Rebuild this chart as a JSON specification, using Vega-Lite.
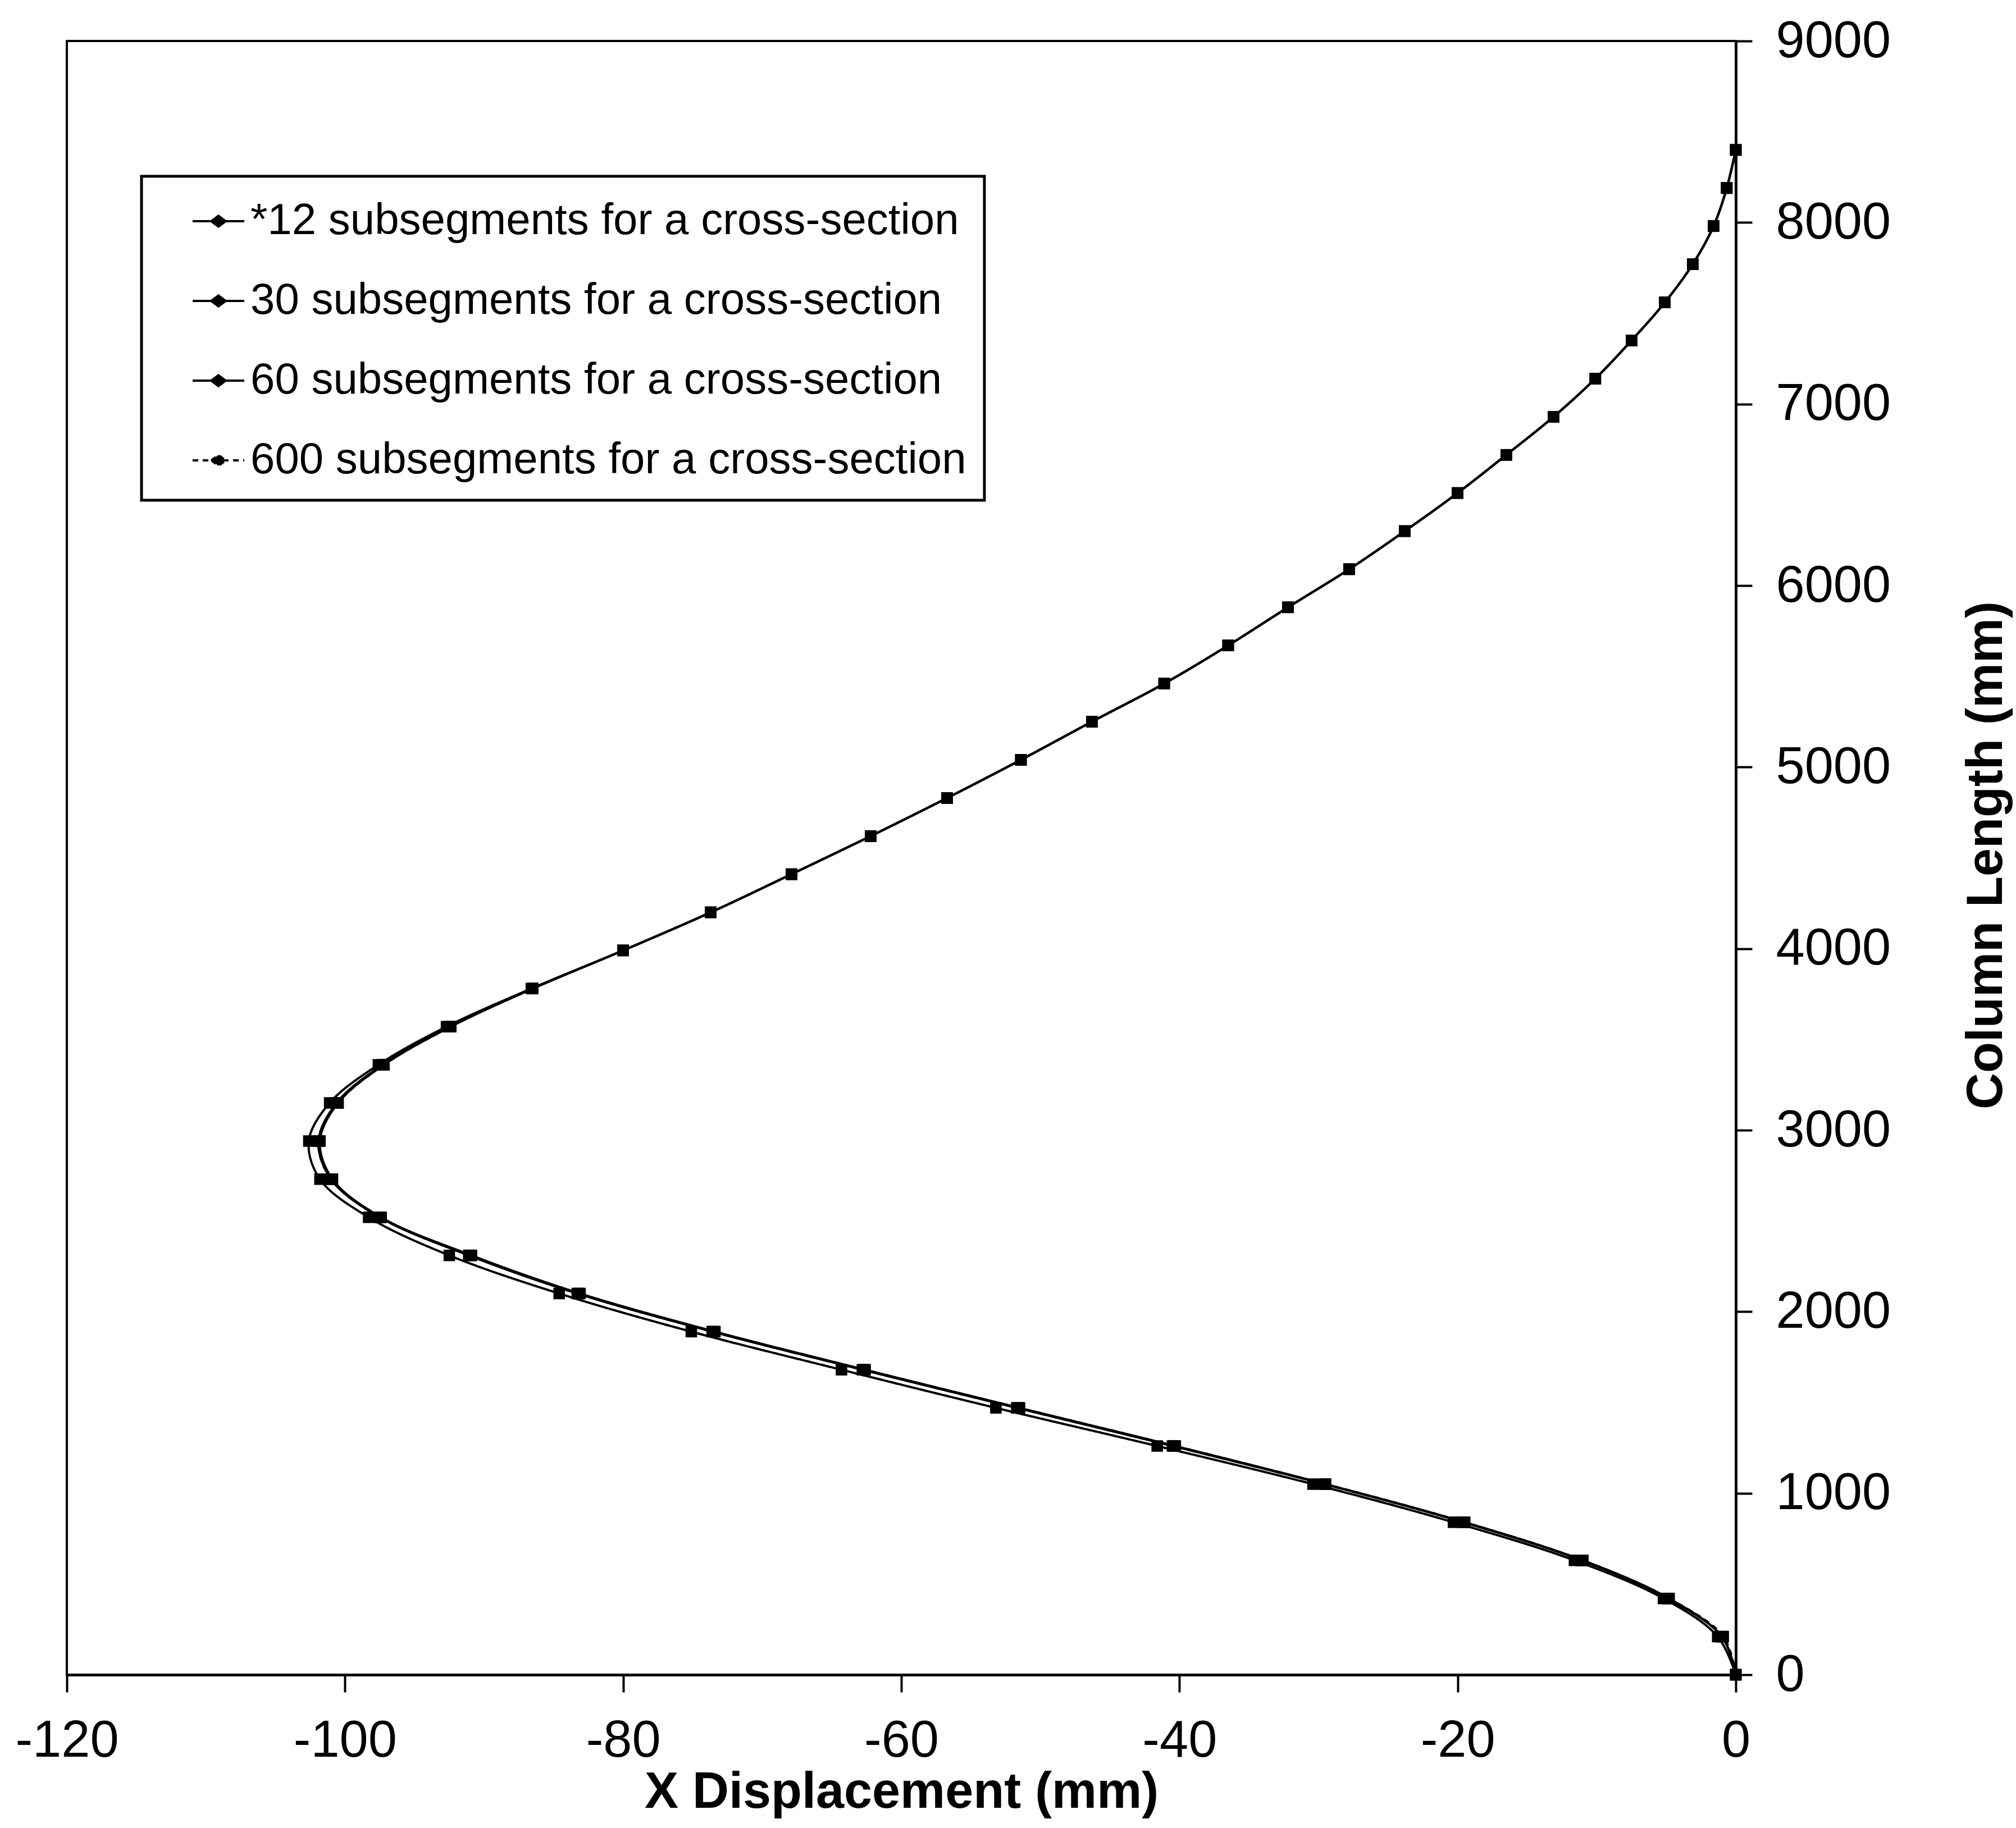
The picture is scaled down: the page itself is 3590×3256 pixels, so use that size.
{
  "$schema": "https://vega.github.io/schema/vega-lite/v6.json",
  "width": 2972,
  "height": 2910,
  "autosize": {"type": "none"},
  "padding": {"left": 119, "top": 73, "right": 499, "bottom": 273},
  "background": "white",
  "config": {
    "view": {"stroke": "black", "strokeWidth": 4},
    "axis": {
      "grid": false,
      "domainColor": "black",
      "domainWidth": 5,
      "tickColor": "black",
      "tickWidth": 4,
      "labelColor": "black",
      "titleColor": "black",
      "labelFont": "Liberation Sans",
      "titleFont": "Liberation Sans",
      "labelFontSize": 92,
      "titleFontSize": 90,
      "titleFontWeight": "bold",
      "labelLimit": 1000,
      "titleLimit": 3000,
      "labelFlush": false,
      "labelOverlap": false
    }
  },
  "data": {
    "values": [
      {"series": "*12 subsegments for a cross-section", "len": 0, "disp": 0},
      {"series": "*12 subsegments for a cross-section", "len": 210, "disp": -1.3},
      {"series": "*12 subsegments for a cross-section", "len": 420, "disp": -5.2},
      {"series": "*12 subsegments for a cross-section", "len": 630, "disp": -11.6},
      {"series": "*12 subsegments for a cross-section", "len": 840, "disp": -20.3},
      {"series": "*12 subsegments for a cross-section", "len": 1050, "disp": -30.4},
      {"series": "*12 subsegments for a cross-section", "len": 1260, "disp": -41.6},
      {"series": "*12 subsegments for a cross-section", "len": 1470, "disp": -53.2},
      {"series": "*12 subsegments for a cross-section", "len": 1680, "disp": -64.3},
      {"series": "*12 subsegments for a cross-section", "len": 1890, "disp": -75.1},
      {"series": "*12 subsegments for a cross-section", "len": 2100, "disp": -84.6},
      {"series": "*12 subsegments for a cross-section", "len": 2310, "disp": -92.5},
      {"series": "*12 subsegments for a cross-section", "len": 2520, "disp": -98.3},
      {"series": "*12 subsegments for a cross-section", "len": 2730, "disp": -101.8},
      {"series": "*12 subsegments for a cross-section", "len": 2940, "disp": -102.6},
      {"series": "*12 subsegments for a cross-section", "len": 3150, "disp": -101.1},
      {"series": "*12 subsegments for a cross-section", "len": 3360, "disp": -97.6},
      {"series": "*12 subsegments for a cross-section", "len": 3570, "disp": -92.7},
      {"series": "*12 subsegments for a cross-section", "len": 3780, "disp": -86.6},
      {"series": "*12 subsegments for a cross-section", "len": 3990, "disp": -80.0},
      {"series": "*12 subsegments for a cross-section", "len": 4200, "disp": -73.7},
      {"series": "*12 subsegments for a cross-section", "len": 4410, "disp": -67.9},
      {"series": "*12 subsegments for a cross-section", "len": 4620, "disp": -62.2},
      {"series": "*12 subsegments for a cross-section", "len": 4830, "disp": -56.7},
      {"series": "*12 subsegments for a cross-section", "len": 5040, "disp": -51.4},
      {"series": "*12 subsegments for a cross-section", "len": 5250, "disp": -46.3},
      {"series": "*12 subsegments for a cross-section", "len": 5460, "disp": -41.1},
      {"series": "*12 subsegments for a cross-section", "len": 5670, "disp": -36.5},
      {"series": "*12 subsegments for a cross-section", "len": 5880, "disp": -32.2},
      {"series": "*12 subsegments for a cross-section", "len": 6090, "disp": -27.8},
      {"series": "*12 subsegments for a cross-section", "len": 6300, "disp": -23.8},
      {"series": "*12 subsegments for a cross-section", "len": 6510, "disp": -20.0},
      {"series": "*12 subsegments for a cross-section", "len": 6720, "disp": -16.5},
      {"series": "*12 subsegments for a cross-section", "len": 6930, "disp": -13.1},
      {"series": "*12 subsegments for a cross-section", "len": 7140, "disp": -10.1},
      {"series": "*12 subsegments for a cross-section", "len": 7350, "disp": -7.5},
      {"series": "*12 subsegments for a cross-section", "len": 7560, "disp": -5.1},
      {"series": "*12 subsegments for a cross-section", "len": 7770, "disp": -3.1},
      {"series": "*12 subsegments for a cross-section", "len": 7980, "disp": -1.6},
      {"series": "*12 subsegments for a cross-section", "len": 8190, "disp": -0.65},
      {"series": "*12 subsegments for a cross-section", "len": 8400, "disp": 0},

      {"series": "30 subsegments for a cross-section", "len": 0, "disp": 0},
      {"series": "30 subsegments for a cross-section", "len": 210, "disp": -1.0},
      {"series": "30 subsegments for a cross-section", "len": 420, "disp": -4.8},
      {"series": "30 subsegments for a cross-section", "len": 630, "disp": -11.0},
      {"series": "30 subsegments for a cross-section", "len": 840, "disp": -19.5},
      {"series": "30 subsegments for a cross-section", "len": 1050, "disp": -29.5},
      {"series": "30 subsegments for a cross-section", "len": 1260, "disp": -40.3},
      {"series": "30 subsegments for a cross-section", "len": 1470, "disp": -51.5},
      {"series": "30 subsegments for a cross-section", "len": 1680, "disp": -62.6},
      {"series": "30 subsegments for a cross-section", "len": 1890, "disp": -73.4},
      {"series": "30 subsegments for a cross-section", "len": 2100, "disp": -83.1},
      {"series": "30 subsegments for a cross-section", "len": 2310, "disp": -90.9},
      {"series": "30 subsegments for a cross-section", "len": 2520, "disp": -97.4},
      {"series": "30 subsegments for a cross-section", "len": 2730, "disp": -100.9},
      {"series": "30 subsegments for a cross-section", "len": 2940, "disp": -101.8},
      {"series": "30 subsegments for a cross-section", "len": 3150, "disp": -100.5},
      {"series": "30 subsegments for a cross-section", "len": 3360, "disp": -97.2},
      {"series": "30 subsegments for a cross-section", "len": 3570, "disp": -92.4},
      {"series": "30 subsegments for a cross-section", "len": 3780, "disp": -86.5},
      {"series": "30 subsegments for a cross-section", "len": 3990, "disp": -80.0},
      {"series": "30 subsegments for a cross-section", "len": 4200, "disp": -73.7},
      {"series": "30 subsegments for a cross-section", "len": 4410, "disp": -67.9},
      {"series": "30 subsegments for a cross-section", "len": 4620, "disp": -62.2},
      {"series": "30 subsegments for a cross-section", "len": 4830, "disp": -56.7},
      {"series": "30 subsegments for a cross-section", "len": 5040, "disp": -51.4},
      {"series": "30 subsegments for a cross-section", "len": 5250, "disp": -46.3},
      {"series": "30 subsegments for a cross-section", "len": 5460, "disp": -41.1},
      {"series": "30 subsegments for a cross-section", "len": 5670, "disp": -36.5},
      {"series": "30 subsegments for a cross-section", "len": 5880, "disp": -32.2},
      {"series": "30 subsegments for a cross-section", "len": 6090, "disp": -27.8},
      {"series": "30 subsegments for a cross-section", "len": 6300, "disp": -23.8},
      {"series": "30 subsegments for a cross-section", "len": 6510, "disp": -20.0},
      {"series": "30 subsegments for a cross-section", "len": 6720, "disp": -16.5},
      {"series": "30 subsegments for a cross-section", "len": 6930, "disp": -13.1},
      {"series": "30 subsegments for a cross-section", "len": 7140, "disp": -10.1},
      {"series": "30 subsegments for a cross-section", "len": 7350, "disp": -7.5},
      {"series": "30 subsegments for a cross-section", "len": 7560, "disp": -5.1},
      {"series": "30 subsegments for a cross-section", "len": 7770, "disp": -3.1},
      {"series": "30 subsegments for a cross-section", "len": 7980, "disp": -1.6},
      {"series": "30 subsegments for a cross-section", "len": 8190, "disp": -0.65},
      {"series": "30 subsegments for a cross-section", "len": 8400, "disp": 0},

      {"series": "60 subsegments for a cross-section", "len": 0, "disp": 0},
      {"series": "60 subsegments for a cross-section", "len": 210, "disp": -1.0},
      {"series": "60 subsegments for a cross-section", "len": 420, "disp": -4.9},
      {"series": "60 subsegments for a cross-section", "len": 630, "disp": -11.1},
      {"series": "60 subsegments for a cross-section", "len": 840, "disp": -19.6},
      {"series": "60 subsegments for a cross-section", "len": 1050, "disp": -29.6},
      {"series": "60 subsegments for a cross-section", "len": 1260, "disp": -40.5},
      {"series": "60 subsegments for a cross-section", "len": 1470, "disp": -51.7},
      {"series": "60 subsegments for a cross-section", "len": 1680, "disp": -62.8},
      {"series": "60 subsegments for a cross-section", "len": 1890, "disp": -73.6},
      {"series": "60 subsegments for a cross-section", "len": 2100, "disp": -83.3},
      {"series": "60 subsegments for a cross-section", "len": 2310, "disp": -91.1},
      {"series": "60 subsegments for a cross-section", "len": 2520, "disp": -97.5},
      {"series": "60 subsegments for a cross-section", "len": 2730, "disp": -101.0},
      {"series": "60 subsegments for a cross-section", "len": 2940, "disp": -101.9},
      {"series": "60 subsegments for a cross-section", "len": 3150, "disp": -100.6},
      {"series": "60 subsegments for a cross-section", "len": 3360, "disp": -97.3},
      {"series": "60 subsegments for a cross-section", "len": 3570, "disp": -92.5},
      {"series": "60 subsegments for a cross-section", "len": 3780, "disp": -86.5},
      {"series": "60 subsegments for a cross-section", "len": 3990, "disp": -80.0},
      {"series": "60 subsegments for a cross-section", "len": 4200, "disp": -73.7},
      {"series": "60 subsegments for a cross-section", "len": 4410, "disp": -67.9},
      {"series": "60 subsegments for a cross-section", "len": 4620, "disp": -62.2},
      {"series": "60 subsegments for a cross-section", "len": 4830, "disp": -56.7},
      {"series": "60 subsegments for a cross-section", "len": 5040, "disp": -51.4},
      {"series": "60 subsegments for a cross-section", "len": 5250, "disp": -46.3},
      {"series": "60 subsegments for a cross-section", "len": 5460, "disp": -41.1},
      {"series": "60 subsegments for a cross-section", "len": 5670, "disp": -36.5},
      {"series": "60 subsegments for a cross-section", "len": 5880, "disp": -32.2},
      {"series": "60 subsegments for a cross-section", "len": 6090, "disp": -27.8},
      {"series": "60 subsegments for a cross-section", "len": 6300, "disp": -23.8},
      {"series": "60 subsegments for a cross-section", "len": 6510, "disp": -20.0},
      {"series": "60 subsegments for a cross-section", "len": 6720, "disp": -16.5},
      {"series": "60 subsegments for a cross-section", "len": 6930, "disp": -13.1},
      {"series": "60 subsegments for a cross-section", "len": 7140, "disp": -10.1},
      {"series": "60 subsegments for a cross-section", "len": 7350, "disp": -7.5},
      {"series": "60 subsegments for a cross-section", "len": 7560, "disp": -5.1},
      {"series": "60 subsegments for a cross-section", "len": 7770, "disp": -3.1},
      {"series": "60 subsegments for a cross-section", "len": 7980, "disp": -1.6},
      {"series": "60 subsegments for a cross-section", "len": 8190, "disp": -0.65},
      {"series": "60 subsegments for a cross-section", "len": 8400, "disp": 0},

      {"series": "600 subsegments for a cross-section", "len": 0, "disp": 0},
      {"series": "600 subsegments for a cross-section", "len": 210, "disp": -0.9},
      {"series": "600 subsegments for a cross-section", "len": 420, "disp": -4.8},
      {"series": "600 subsegments for a cross-section", "len": 630, "disp": -11.0},
      {"series": "600 subsegments for a cross-section", "len": 840, "disp": -19.5},
      {"series": "600 subsegments for a cross-section", "len": 1050, "disp": -29.5},
      {"series": "600 subsegments for a cross-section", "len": 1260, "disp": -40.4},
      {"series": "600 subsegments for a cross-section", "len": 1470, "disp": -51.6},
      {"series": "600 subsegments for a cross-section", "len": 1680, "disp": -62.7},
      {"series": "600 subsegments for a cross-section", "len": 1890, "disp": -73.5},
      {"series": "600 subsegments for a cross-section", "len": 2100, "disp": -83.2},
      {"series": "600 subsegments for a cross-section", "len": 2310, "disp": -91.0},
      {"series": "600 subsegments for a cross-section", "len": 2520, "disp": -97.5},
      {"series": "600 subsegments for a cross-section", "len": 2730, "disp": -101.0},
      {"series": "600 subsegments for a cross-section", "len": 2940, "disp": -101.9},
      {"series": "600 subsegments for a cross-section", "len": 3150, "disp": -100.5},
      {"series": "600 subsegments for a cross-section", "len": 3360, "disp": -97.2},
      {"series": "600 subsegments for a cross-section", "len": 3570, "disp": -92.4},
      {"series": "600 subsegments for a cross-section", "len": 3780, "disp": -86.5},
      {"series": "600 subsegments for a cross-section", "len": 3990, "disp": -80.0},
      {"series": "600 subsegments for a cross-section", "len": 4200, "disp": -73.7},
      {"series": "600 subsegments for a cross-section", "len": 4410, "disp": -67.9},
      {"series": "600 subsegments for a cross-section", "len": 4620, "disp": -62.2},
      {"series": "600 subsegments for a cross-section", "len": 4830, "disp": -56.7},
      {"series": "600 subsegments for a cross-section", "len": 5040, "disp": -51.4},
      {"series": "600 subsegments for a cross-section", "len": 5250, "disp": -46.3},
      {"series": "600 subsegments for a cross-section", "len": 5460, "disp": -41.1},
      {"series": "600 subsegments for a cross-section", "len": 5670, "disp": -36.5},
      {"series": "600 subsegments for a cross-section", "len": 5880, "disp": -32.2},
      {"series": "600 subsegments for a cross-section", "len": 6090, "disp": -27.8},
      {"series": "600 subsegments for a cross-section", "len": 6300, "disp": -23.8},
      {"series": "600 subsegments for a cross-section", "len": 6510, "disp": -20.0},
      {"series": "600 subsegments for a cross-section", "len": 6720, "disp": -16.5},
      {"series": "600 subsegments for a cross-section", "len": 6930, "disp": -13.1},
      {"series": "600 subsegments for a cross-section", "len": 7140, "disp": -10.1},
      {"series": "600 subsegments for a cross-section", "len": 7350, "disp": -7.5},
      {"series": "600 subsegments for a cross-section", "len": 7560, "disp": -5.1},
      {"series": "600 subsegments for a cross-section", "len": 7770, "disp": -3.1},
      {"series": "600 subsegments for a cross-section", "len": 7980, "disp": -1.6},
      {"series": "600 subsegments for a cross-section", "len": 8190, "disp": -0.65},
      {"series": "600 subsegments for a cross-section", "len": 8400, "disp": 0}
    ]
  },
  "layer": [
    {
      "mark": {"type": "line", "interpolate": "catmull-rom", "strokeWidth": 4, "clip": false},
      "encoding": {
        "x": {
          "field": "disp", "type": "quantitative",
          "scale": {"domain": [-120, 0], "nice": false, "zero": false},
          "axis": {
            "title": "X Displacement (mm)",
            "values": [-120, -100, -80, -60, -40, -20, 0],
            "labelExpr": "toString(datum.value)",
            "tickSize": 31,
            "labelPadding": 114,
            "labelBaseline": "alphabetic",
            "titleY": 236,
            "titleBaseline": "alphabetic"
          }
        },
        "y": {
          "field": "len", "type": "quantitative",
          "scale": {"domain": [0, 9000], "nice": false},
          "axis": {
            "orient": "right",
            "title": "Column Length (mm)",
            "values": [0, 1000, 2000, 3000, 4000, 5000, 6000, 7000, 8000, 9000],
            "format": "d",
            "tickSize": 29,
            "labelPadding": 42,
            "titleAngle": 270,
            "titleX": 473,
            "titleY": 1450,
            "titleAlign": "center",
            "titleBaseline": "alphabetic"
          }
        },
        "order": {"field": "len", "type": "quantitative"},
        "color": {
          "field": "series", "type": "nominal",
          "scale": {
            "domain": ["*12 subsegments for a cross-section", "30 subsegments for a cross-section", "60 subsegments for a cross-section", "600 subsegments for a cross-section"],
            "range": ["black", "black", "black", "black"]
          },
          "legend": {
            "title": null,
            "orient": "none",
            "legendX": 133,
            "legendY": 241,
            "strokeColor": "black",
            "fillColor": "white",
            "padding": 32,
            "labelFont": "Liberation Sans",
            "labelFontSize": 78,
            "labelColor": "black",
            "labelLimit": 3000,
            "symbolType": "M -1 0 L 1 0 M -0.28 0 L 0 -0.21 L 0.28 0 L 0 0.21 Z",
            "symbolSize": 8464,
            "symbolStrokeWidth": 4,
            "symbolStrokeColor": "black",
            "symbolFillColor": "black",
            "symbolOffset": 57,
            "labelOffset": 9,
            "rowPadding": 55,
            "columnPadding": 64,
            "encode": {
              "legend": {"update": {"strokeWidth": {"value": 5}}},
              "symbols": {"update": {"fill": {"value": "black"}, "stroke": {"value": "black"}, "opacity": {"value": 1}}}
            }
          }
        },
        "strokeDash": {
          "field": "series", "type": "nominal",
          "scale": {
            "domain": ["*12 subsegments for a cross-section", "30 subsegments for a cross-section", "60 subsegments for a cross-section", "600 subsegments for a cross-section"],
            "range": [[1, 0], [1, 0], [1, 0], [10, 8]]
          },
          "legend": null
        }
      }
    },
    {
      "mark": {"type": "point", "shape": "square", "filled": true, "size": 420, "opacity": 1, "color": "black", "clip": false},
      "encoding": {
        "x": {"field": "disp", "type": "quantitative"},
        "y": {"field": "len", "type": "quantitative"},
        "detail": {"field": "series", "type": "nominal"}
      }
    }
  ]
}
